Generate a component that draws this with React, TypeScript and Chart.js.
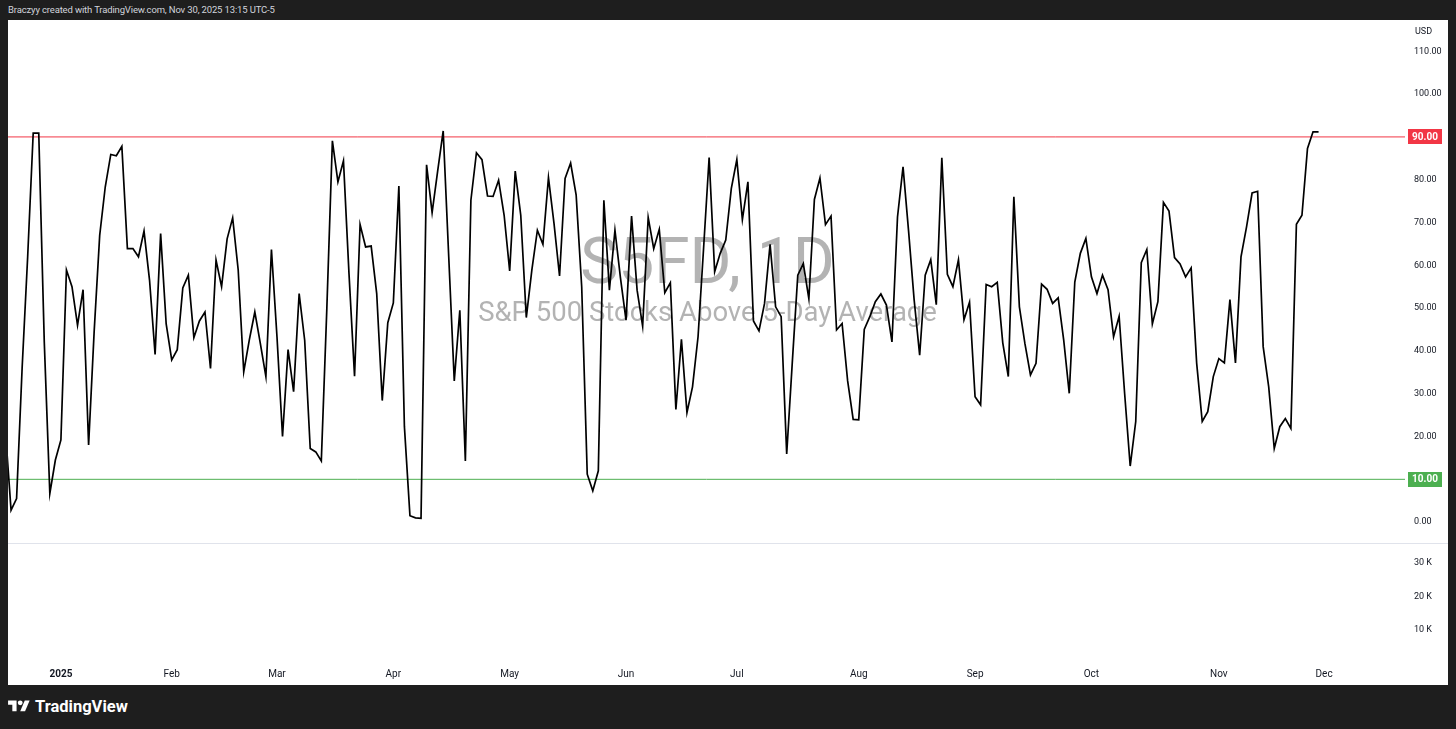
import React, { useEffect, useRef } from 'react';
import { Chart, registerables } from 'chart.js';

Chart.register(...registerables);

// ---- data (one value per trading day, Dec 17 2024 .. Nov 28 2025)
const S5FD_VALUES: number[] = [
  21, 2.8, 5.5, 36, 62, 90.9, 90.9, 42, 6.7, 14.5,
  19.2, 58.9, 55, 46, 54.3, 18, 44.5, 67, 78.3, 85.9,
  85.6, 87.8, 63.9, 63.9, 62, 68, 56.5, 39.2, 67.4, 46.3,
  37.9, 40.3, 54.7, 57.7, 43.1, 47, 49.1, 35.9, 61.2, 55,
  66.2, 71.1, 58.9, 35.1, 42.5, 49.1, 41.7, 34, 63.7, 43.3,
  20, 40.3, 30.5, 53.4, 42.5, 17.2, 16.4, 14.3, 50, 89.1,
  79.5, 84.4, 58, 34.1, 69.5, 64.3, 64.5, 53.4, 28.4, 46.6,
  51.2, 78.5, 22.3, 1.5, 1.0, 0.9, 83.5, 72.3, 82, 91.4,
  62, 33, 49.5, 14.3, 75.2, 86.3, 84.7, 76.2, 76.1, 79.9,
  71.7, 58.7, 82, 71.7, 47.8, 58.9, 68.2, 64.9, 80.5, 69.8,
  57.5, 80.3, 83.9, 76.4, 55, 11.2, 7.3, 12, 75.2, 54.2,
  68.2, 57, 47.2, 71.5, 54.2, 45.8, 71.2, 63.9, 68.4, 53.6,
  55.9, 26.3, 42.7, 25.6, 31.6, 43.3, 64, 85.2, 58.5, 62.8,
  65.9, 77.9, 84.7, 70.7, 79.5, 47, 44.7, 51.1, 64.9, 50.3,
  48, 15.9, 37.1, 57.7, 60.4, 52.2, 75.4, 80.4, 69.5, 71.5,
  44.9, 46.4, 33, 24, 23.9, 45, 48, 51.5, 53.3, 50.7,
  42.1, 71.3, 83, 68, 52, 39, 57.7, 61.3, 50.8, 85.1,
  57.9, 55, 61.3, 47.3, 51.4, 29.3, 27.4, 55.5, 55, 56,
  41.9, 34, 76, 50.3, 41.7, 34.4, 37.1, 55.6, 54.4, 51.1,
  52.4, 42.5, 30.1, 56.1, 62.8, 66.3, 57.3, 53.4, 57.7, 54.3,
  43.3, 48.1, 30, 13.1, 23.5, 60.6, 63.7, 46.3, 51.5, 74.7,
  72.7, 61.8, 60.3, 57.3, 59.4, 37.1, 23.5, 25.8, 34, 38.2,
  37.2, 52, 37.2, 62, 69, 76.9, 77.3, 41, 31.6, 17.2,
  22.3, 24.2, 21.9, 69.6, 71.7, 87.3, 91.2, 91.2,
];

// bar index of the first trading day of each month, and its label
const MONTH_TICK_INDEX: number[] = [10, 30, 49, 70, 91, 112, 132, 154, 175, 196, 219, 238];
const MONTH_TICK_LABELS: string[] = ['2025', 'Feb', 'Mar', 'Apr', 'May', 'Jun', 'Jul', 'Aug', 'Sep', 'Oct', 'Nov', 'Dec'];

const PRICE_TICKS: number[] = [0, 10, 20, 30, 40, 50, 60, 70, 80, 90, 100, 110];
const VOLUME_TICKS: number[] = [10000, 20000, 30000];

const UPPER_LEVEL = 90;
const LOWER_LEVEL = 10;

const TITLE = 'S5FD, 1D';
const SUBTITLE = 'S&P 500 Stocks Above 5-Day Average';
const HEADER = 'Braczyy created with TradingView.com, Nov 30, 2025 13:15 UTC-5';
const CURRENCY = 'USD';

// visible ranges of the panes
const X_MIN = 0.45;
const X_MAX = 252.6;
const Y_MIN = -4.88;
const Y_MAX = 117.32;
const VOL_MIN = 2537;
const VOL_MAX = 35970;

const FONT = 'Roboto, "Liberation Sans", Arial, sans-serif';
const TEXT = '#131722';
const RED = '#f23645';
const GREEN = '#4caf50';
const AXIS_W = 43;
const TIME_H = 30;

const zeroPad = (s: any) => {
  s.paddingTop = 0;
  s.paddingBottom = 0;
  s.paddingLeft = 0;
  s.paddingRight = 0;
};

const overlayPlugin = {
  id: 'tvOverlay',
  beforeDatasetsDraw(chart: any) {
    const { ctx, chartArea, scales } = chart;
    const y = scales.y;
    const cx = (chartArea.left + chartArea.right) / 2;
    const cy = (y.top + y.bottom) / 2;
    ctx.save();
    ctx.fillStyle = 'rgba(150,150,150,0.72)';
    ctx.textAlign = 'center';
    ctx.textBaseline = 'middle';
    ctx.font = `64px ${FONT}`;
    ctx.fillText(TITLE, cx + 1, cy - 15);
    ctx.font = `27.5px ${FONT}`;
    ctx.fillText(SUBTITLE, cx + 1, cy + 33);
    ctx.restore();
  },
  afterDraw(chart: any) {
    const { ctx, chartArea, scales, width } = chart;
    const y = scales.y;
    ctx.save();
    // pane separator
    ctx.strokeStyle = '#e0e3eb';
    ctx.lineWidth = 1;
    ctx.beginPath();
    ctx.moveTo(0, Math.round(y.bottom) + 0.5);
    ctx.lineTo(width, Math.round(y.bottom) + 0.5);
    ctx.stroke();

    // level labels on price axis
    const drawTag = (val: number, color: string) => {
      const py = y.getPixelForValue(val);
      const x0 = chartArea.right + 3;
      const w = 34;
      const h = 15;
      ctx.fillStyle = color;
      ctx.fillRect(x0, Math.round(py - h / 2), w, h);
      ctx.fillStyle = '#ffffff';
      ctx.font = `bold 10px ${FONT}`;
      ctx.textAlign = 'center';
      ctx.textBaseline = 'middle';
      ctx.fillText(val.toFixed(2), x0 + w / 2, py + 0.5);
    };
    drawTag(UPPER_LEVEL, RED);
    drawTag(LOWER_LEVEL, GREEN);

    // currency label
    ctx.fillStyle = TEXT;
    ctx.font = `9px ${FONT}`;
    ctx.textAlign = 'left';
    ctx.textBaseline = 'middle';
    ctx.fillText(CURRENCY, chartArea.right + 10, 12);
    ctx.restore();
  },
};

function TradingViewLogo() {
  return (
    <svg width="22" height="17" viewBox="0 0 36 28" style={{ display: 'block' }}>
      <path d="M14 22H7V11H0V4h14v18z" fill="#ffffff" />
      <path d="M28 22h-8l7.5-18h8L28 22z" fill="#ffffff" />
      <circle cx="20" cy="8" r="4" fill="#ffffff" />
    </svg>
  );
}

export default function App() {
  const canvasRef = useRef<HTMLCanvasElement | null>(null);

  useEffect(() => {
    const canvas = canvasRef.current;
    if (!canvas) return;
    const points = S5FD_VALUES.map((v, i) => ({ x: i, y: v }));

    const chart = new Chart(canvas, {
      type: 'line',
      data: {
        datasets: [
          {
            label: 'S5FD',
            data: points,
            borderColor: '#000000',
            borderWidth: 1.7,
            pointRadius: 0,
            tension: 0,
            yAxisID: 'y',
            order: 0,
          },
          {
            label: 'Upper',
            data: [{ x: X_MIN, y: UPPER_LEVEL }, { x: X_MAX, y: UPPER_LEVEL }],
            borderColor: RED,
            borderWidth: 1,
            pointRadius: 0,
            yAxisID: 'y',
            order: 1,
          },
          {
            label: 'Lower',
            data: [{ x: X_MIN, y: LOWER_LEVEL }, { x: X_MAX, y: LOWER_LEVEL }],
            borderColor: GREEN,
            borderWidth: 1,
            pointRadius: 0,
            yAxisID: 'y',
            order: 2,
          },
        ],
      },
      options: {
        animation: false,
        responsive: false,
        devicePixelRatio: 1,
        maintainAspectRatio: false,
        layout: { padding: 0 },
        plugins: {
          legend: { display: false },
          tooltip: { enabled: false },
        },
        scales: {
          x: {
            type: 'linear',
            position: 'bottom',
            min: X_MIN,
            max: X_MAX,
            grid: { display: false },
            border: { display: false },
            afterBuildTicks: (s: any) => {
              s.ticks = MONTH_TICK_INDEX.map((v) => ({ value: v }));
            },
            afterFit: (s: any) => {
              s.height = TIME_H;
              zeroPad(s);
            },
            ticks: {
              autoSkip: false,
              maxRotation: 0,
              minRotation: 0,
              padding: 5,
              color: TEXT,
              font: (c: any) => ({
                family: FONT,
                size: 10,
                weight: c.tick && c.tick.value === MONTH_TICK_INDEX[0] ? 'bold' : 'normal',
              }),
              callback: (v: any) => {
                const k = MONTH_TICK_INDEX.indexOf(Number(v));
                return k >= 0 ? MONTH_TICK_LABELS[k] : '';
              },
            },
          },
          y: {
            type: 'linear',
            position: 'right',
            stack: 'panes',
            stackWeight: 523,
            min: Y_MIN,
            max: Y_MAX,
            grid: { display: false, drawTicks: false },
            border: { display: false },
            afterBuildTicks: (s: any) => {
              s.ticks = PRICE_TICKS.map((v) => ({ value: v }));
            },
            afterFit: (s: any) => {
              s.width = AXIS_W;
              zeroPad(s);
            },
            ticks: {
              padding: 9,
              crossAlign: 'near',
              color: TEXT,
              font: { family: FONT, size: 9 },
              callback: (v: any) => Number(v).toFixed(2),
            },
          },
          vol: {
            type: 'linear',
            position: 'right',
            stack: 'panes',
            stackWeight: 112,
            min: VOL_MIN,
            max: VOL_MAX,
            grid: { display: false, drawTicks: false },
            border: { display: false },
            afterBuildTicks: (s: any) => {
              s.ticks = VOLUME_TICKS.map((v) => ({ value: v }));
            },
            afterFit: (s: any) => {
              s.width = AXIS_W;
              zeroPad(s);
            },
            ticks: {
              padding: 9,
              crossAlign: 'near',
              color: TEXT,
              font: { family: FONT, size: 9 },
              callback: (v: any) => `${Number(v) / 1000} K`,
            },
          },
        },
      },
      plugins: [overlayPlugin],
    } as any);

    return () => chart.destroy();
  }, []);

  return (
    <div
      style={{
        position: 'fixed',
        left: 0,
        top: 0,
        width: 1456,
        height: 729,
        background: '#1e1e1e',
        overflow: 'hidden',
      }}
    >
      <div
        style={{
          position: 'absolute',
          left: 8,
          top: 4,
          fontFamily: FONT,
          fontSize: 9.5,
          color: '#d1d4dc',
          whiteSpace: 'nowrap',
          letterSpacing: '-0.15px',
        }}
      >
        {HEADER}
      </div>
      <div
        style={{
          position: 'absolute',
          left: 8,
          top: 20,
          width: 1440,
          height: 665,
          background: '#ffffff',
        }}
      >
        <canvas ref={canvasRef} width={1440} height={665} style={{ display: 'block', width: 1440, height: 665 }} />
      </div>
      <div
        style={{
          position: 'absolute',
          left: 8,
          top: 697,
          display: 'flex',
          alignItems: 'center',
          gap: 5,
          fontFamily: FONT,
          fontWeight: 700,
          fontSize: 16.5,
          color: '#ffffff',
          whiteSpace: 'nowrap',
        }}
      >
        <TradingViewLogo />
        <span>TradingView</span>
      </div>
    </div>
  );
}
